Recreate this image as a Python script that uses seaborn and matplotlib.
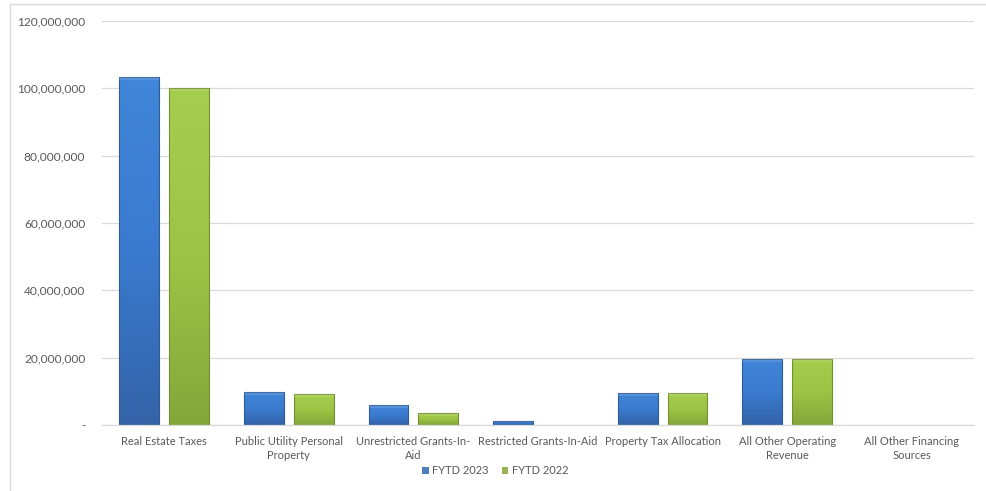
import numpy as np
import pandas as pd
import matplotlib
matplotlib.use("Agg")
import matplotlib.pyplot as plt
import seaborn as sns
from matplotlib.ticker import FuncFormatter
from matplotlib.patches import Rectangle
from matplotlib.colors import LinearSegmentedColormap

categories = ["Real Estate Taxes", "Public Utility Personal Property",
              "Unrestricted Grants-In-Aid", "Restricted Grants-In-Aid",
              "Property Tax Allocation", "All Other Operating Revenue",
              "All Other Financing Sources"]
tick_labels = ["Real Estate Taxes", "Public Utility Personal\nProperty",
               "Unrestricted Grants-In-\nAid", "Restricted Grants-In-Aid",
               "Property Tax Allocation", "All Other Operating\nRevenue",
               "All Other Financing\nSources"]
fytd_2023 = [103400000, 9800000, 5900000, 1300000, 9600000, 19500000, 0]
fytd_2022 = [100100000, 9100000, 3700000, 0, 9500000, 19700000, 0]
series = ["FYTD 2023", "FYTD 2022"]
y_ticks = [0, 20000000, 40000000, 60000000, 80000000, 100000000, 120000000]

df = pd.DataFrame({
    "category": categories * 2,
    "value": fytd_2023 + fytd_2022,
    "series": [series[0]] * len(categories) + [series[1]] * len(categories),
})

sns.set_theme(style="white")
plt.rcParams["font.family"] = ["Lato", "DejaVu Sans"]

fig = plt.figure(figsize=(9.87, 4.91), dpi=100)
ax = fig.add_axes([102/987, 1 - 425/491, (974-102)/987, (425-21)/491])

colors = {"FYTD 2023": "#3A7BCF", "FYTD 2022": "#9DC444"}
sns.barplot(data=df, x="category", y="value", hue="series", order=categories,
            hue_order=series, palette=colors, width=0.8, gap=0.2, ax=ax,
            edgecolor="none", linewidth=0, legend=True)

# gradient shading on each bar
grad_maps = {
    "FYTD 2023": LinearSegmentedColormap.from_list("b", ["#3463A8", "#3A7BCF", "#4186D8"]),
    "FYTD 2022": LinearSegmentedColormap.from_list("g", ["#84A73B", "#9DC444", "#A6CE4E"]),
}
edge_cols = {"FYTD 2023": "#2D5A98", "FYTD 2022": "#748F31"}
n = len(categories)
for i, cont in enumerate(ax.containers):
    s = series[i]
    for p in cont:
        h = p.get_height()
        if h <= 0:
            continue
        x0, w = p.get_x(), p.get_width()
        grad = np.linspace(0, 1, 256).reshape(-1, 1)
        im = ax.imshow(grad, cmap=grad_maps[s], aspect="auto",
                       extent=[x0, x0 + w, 0, h], origin="lower", zorder=p.get_zorder() + 0.1)
        im.set_clip_path(p)
        ax.add_patch(Rectangle((x0, 0), w, h, fill=False, edgecolor=edge_cols[s],
                               linewidth=0.8, zorder=p.get_zorder() + 0.2))
        bev = 900000 if h > 1800000 else h * 0.4
        ax.add_patch(Rectangle((x0, h - bev), w, bev, facecolor="white", alpha=0.12,
                               edgecolor="none", zorder=p.get_zorder() + 0.3))

ax.set_xlim(-0.5, n - 0.5)
ax.set_ylim(0, 120000000)
ax.set_yticks(y_ticks)
ax.yaxis.set_major_formatter(FuncFormatter(lambda v, _: "-" if v == 0 else f"{int(v):,}"))
ax.set_xticks(range(n))
ax.set_xticklabels(tick_labels, fontsize=8, color="#595959", linespacing=1.35)
ax.tick_params(axis="y", labelsize=8.6, labelcolor="#595959", length=0, pad=12)
ax.tick_params(axis="x", length=0, pad=8)
ax.set_xlabel("")
ax.set_ylabel("")
ax.grid(axis="y", color="#D9D9D9", linewidth=0.9)
ax.set_axisbelow(True)
for sp in ["top", "right", "left"]:
    ax.spines[sp].set_visible(False)
ax.spines["bottom"].set_color("#D9D9D9")
ax.spines["bottom"].set_linewidth(0.9)

handles, labels = ax.get_legend_handles_labels()
ax.get_legend().remove()
fig.legend(handles, labels, loc="center", bbox_to_anchor=(495/987, 1 - 471/491),
           ncol=2, frameon=False, fontsize=8, labelcolor="#595959",
           handlelength=0.6, handleheight=0.6, handletextpad=0.3, columnspacing=1.2)

# outer chart-area border
fig.patches.append(Rectangle((10/987, -0.1), 1.2, 1.1 - 4/491, transform=fig.transFigure,
                             fill=False, edgecolor="#D9D9D9", linewidth=1.0))

fig.savefig("out.png", dpi=100)
